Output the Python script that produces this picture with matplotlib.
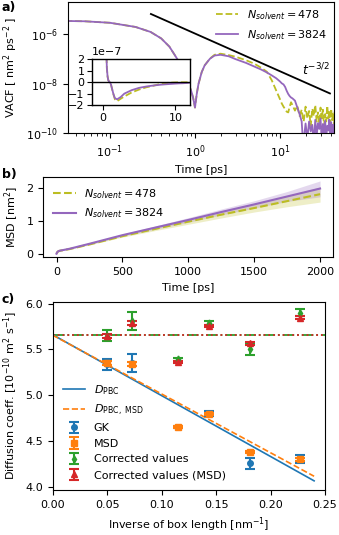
import numpy as np
import matplotlib
matplotlib.use('Agg')
import matplotlib.pyplot as plt

# --- panel a: velocity autocorrelation (signed), main plot shows |VACF|
t_vacf = [0.03, 0.05, 0.1, 0.2, 0.3, 0.4, 0.5, 0.6, 0.7, 0.8, 0.9, 0.95,
          1.0, 1.05, 1.1, 1.2, 1.3, 1.5, 1.7, 2.0, 2.5, 3.0, 4.0, 5.0, 6.0,
          7.0, 8.0, 9.0, 10.0, 10.5, 11.0, 11.5, 12.0, 12.5, 13.0, 13.5,
          14.0, 15.0, 16.0, 17.0, 18.0, 18.6, 19, 20, 21, 22, 23, 24, 25,
          26, 27, 28, 29, 30, 31, 32, 33, 34, 35, 36, 37, 38, 39, 40, 41,
          42, 43, 44]
vacf_3824 = [3.5e-6, 3.4e-6, 2.95e-6, 2.0e-6, 1.26e-6, 6.9e-7, 3.2e-7,
             1.2e-7, 4.8e-8, 1.6e-8, 5.3e-9, 2.8e-9, 1.1e-9, -4e-9, -1e-8,
             -3e-8, -5.6e-8, -1.04e-7, -1.4e-7, -1.5e-7, -1.3e-7, -1.0e-7,
             -7e-8, -5e-8, -3.8e-8, -2.9e-8, -2.2e-8, -1.7e-8, -1.25e-8,
             -1.05e-8, -9.5e-9, -7.5e-9, -5.2e-9, -3.9e-9, -3.2e-9, -2.8e-9,
             -2.6e-9, -2.1e-9, -1.1e-9, -6e-10, -3e-10, -5e-11,
             -5e-11, 2.5e-10, -6e-11, 3.0e-10, -1.2e-10, 2.2e-10, -4e-11,
             3.5e-10, -8e-11, 2.6e-10, -1.5e-10, 4.0e-10, -5e-11, 2.4e-10,
             -1.0e-10, 3.2e-10, -7e-11, 2.0e-10, -1.3e-10, 3.6e-10, -6e-11,
             2.8e-10, -1.1e-10, 2.2e-10, -9e-11, 3.0e-10]
vacf_478 = [3.5e-6, 3.4e-6, 2.95e-6, 2.0e-6, 1.26e-6, 6.9e-7, 3.2e-7,
            1.2e-7, 4.8e-8, 1.6e-8, 5.3e-9, 2.8e-9, 1.1e-9, -4e-9, -1e-8,
            -3e-8, -5.6e-8, -1.06e-7, -1.5e-7, -1.66e-7, -1.45e-7, -1.25e-7,
            -9e-8, -6.5e-8, -4.5e-8, -3.1e-8, -1.4e-8, -5.5e-9, -2.4e-9,
            -1.6e-9, -1.2e-9, -9.5e-10, -7.5e-10, -7e-10, -1.2e-9, -1.8e-9,
            -1.4e-9, -8.3e-10, -1.3e-9, -5e-10, 9e-10, 4e-10,
            3e-10, 1.2e-9, 4e-10, 8e-10, 2e-10, 1.0e-9, 5e-10, 1.4e-9,
            3e-10, 7e-10, 2.5e-10, 1.1e-9, 4e-10, 9e-10, 2e-10, 6e-10,
            3e-10, 1.3e-9, 4e-10, 8e-10, 2.5e-10, 1.0e-9, 3.5e-10, 7e-10,
            2e-10, 9e-10]
t_guide = [0.303, 38.7]
vacf_guide = [6.7e-6, 4.1e-9]

# --- panel b: mean squared displacement
t_msd = [0, 5, 10, 20, 30, 50, 100, 250, 500, 750, 1000, 1250, 1500, 1750, 2000]
msd_3824 = [0, 0.04, 0.065, 0.085, 0.095, 0.11, 0.15, 0.30, 0.56, 0.79, 1.02,
            1.26, 1.49, 1.73, 1.97]
msd_3824_lo = [0, 0.04, 0.064, 0.083, 0.093, 0.107, 0.145, 0.285, 0.53, 0.74,
               0.95, 1.17, 1.38, 1.58, 1.72]
msd_3824_hi = [0, 0.04, 0.066, 0.087, 0.097, 0.113, 0.155, 0.315, 0.59, 0.84,
               1.09, 1.35, 1.60, 1.88, 2.20]
msd_478 = [0, 0.04, 0.063, 0.082, 0.092, 0.105, 0.14, 0.28, 0.53, 0.75, 0.97,
           1.18, 1.38, 1.59, 1.80]
msd_478_lo = [0, 0.04, 0.062, 0.08, 0.09, 0.102, 0.135, 0.265, 0.50, 0.70,
              0.89, 1.08, 1.26, 1.42, 1.56]
msd_478_hi = [0, 0.04, 0.064, 0.084, 0.094, 0.108, 0.145, 0.295, 0.56, 0.80,
              1.05, 1.28, 1.50, 1.75, 2.02]

# --- panel c: diffusion coefficients vs inverse box length
inv_L = [0.0497, 0.0725, 0.1148, 0.1438, 0.181, 0.2275]
D_gk = [5.34, 5.35, 4.655, 4.80, 4.255, 4.305]
D_gk_err = [0.06, 0.10, 0.012, 0.025, 0.06, 0.04]
D_msd = [5.35, 5.34, 4.655, 4.795, 4.38, 4.30]
D_msd_err = [0.02, 0.02, 0.01, 0.015, 0.015, 0.015]
D_corr = [5.65, 5.81, 5.39, 5.79, 5.50, 5.90]
D_corr_err = [0.06, 0.10, 0.012, 0.025, 0.06, 0.04]
D_corr_msd = [5.645, 5.79, 5.365, 5.755, 5.565, 5.845]
D_corr_msd_err = [0.02, 0.02, 0.01, 0.015, 0.015, 0.015]
fit_x = [0.0, 0.24]
fit_gk = [5.66, 4.065]
fit_msd = [5.655, 4.115]
D_inf = 5.66
D_inf_msd = 5.66


def main():
   plt.rcParams['font.size'] = 8
   plt.rcParams['font.family'] = 'DejaVu Sans'

   fig = plt.figure(figsize=(3.39, 5.35), dpi=100)
   yel = '#bcbd22'
   pur = '#9467bd'

   # ---------------- a)
   ax = fig.add_axes([0.1997, 0.7508, 0.7863, 0.246])
   ax.plot(t_vacf, np.abs(vacf_478), '--', color=yel, lw=1.3,
           label=r'$N_{solvent} = 478$')
   ax.plot(t_vacf, np.abs(vacf_3824), '-', color=pur, lw=1.3,
           label=r'$N_{solvent} = 3824$')
   ax.plot(t_guide, vacf_guide, 'k-', lw=1.3)
   ax.text(18, 2.2e-8, r'$t^{-3/2}$', fontsize=9)
   ax.set_xscale('log')
   ax.set_yscale('log')
   ax.set_xlim(0.0318, 43.5)
   ax.set_ylim(1e-10, 2.1e-5)
   ax.set_yticks([1e-10, 1e-8, 1e-6])
   ax.yaxis.set_minor_locator(matplotlib.ticker.NullLocator())
   ax.set_xlabel('Time [ps]')
   ax.set_ylabel(r'VACF [ nm$^2$ ps$^{-2}$ ]')
   ax.legend(loc='upper right', frameon=False, borderaxespad=0.2,
             handlelength=2.0)

   ins = fig.add_axes([0.2723, 0.8037, 0.288, 0.0854])
   ins.plot(t_vacf, vacf_478, '--', color=yel, lw=1.3)
   ins.plot(t_vacf, vacf_3824, '-', color=pur, lw=1.3)
   ins.axhline(0, color='k', lw=1.0)
   ins.set_xlim(-1.4, 12.0)
   ins.set_ylim(-2e-7, 2e-7)
   ins.set_yticks([-2e-7, -1e-7, 0, 1e-7, 2e-7])
   ins.set_xticks([0, 10])
   ins.tick_params(pad=2)
   for s in ins.spines.values():
      s.set_linewidth(1.0)

   # ---------------- b)
   bx = fig.add_axes([0.1278, 0.519, 0.8552, 0.1496])
   bx.fill_between(t_msd, msd_478_lo, msd_478_hi, color=yel, alpha=0.25, lw=0)
   bx.fill_between(t_msd, msd_3824_lo, msd_3824_hi, color=pur, alpha=0.25, lw=0)
   bx.plot(t_msd, msd_478, '--', color=yel, lw=1.5,
           label=r'$N_{solvent} = 478$')
   bx.plot(t_msd, msd_3824, '-', color=pur, lw=1.5,
           label=r'$N_{solvent} = 3824$')
   bx.set_xticks([0, 500, 1000, 1500, 2000])
   bx.set_xlabel('Time [ps]')
   bx.set_ylabel(r'MSD [nm$^2$]')
   bx.legend(loc='upper left', frameon=False)

   # ---------------- c)
   cx = fig.add_axes([0.1555, 0.0841, 0.8032, 0.3519])
   cx.axhline(D_inf, color='C2', ls='-.', lw=1.3)
   cx.axhline(D_inf_msd, color='C3', ls=':', lw=1.3)
   cx.plot(fit_x, fit_gk, '-', color='C0', lw=1.2, label=r'$D_{\mathrm{PBC}}$')
   cx.plot(fit_x, fit_msd, '--', color='C1', lw=1.2,
           label=r'$D_{\mathrm{PBC,\ MSD}}$')
   cx.errorbar(inv_L, D_gk, yerr=D_gk_err, fmt='o', color='C0', ms=4,
               capsize=3.5, elinewidth=1.5, capthick=1.5, label='GK')
   cx.errorbar(inv_L, D_msd, yerr=D_msd_err, fmt='s', color='C1', ms=4,
               capsize=3.5, elinewidth=1.5, capthick=1.5, label='MSD')
   cx.errorbar(inv_L, D_corr, yerr=D_corr_err, fmt='d', color='C2', ms=3.5,
               capsize=3.5, elinewidth=1.5, capthick=1.5,
               label='Corrected values')
   cx.errorbar(inv_L, D_corr_msd, yerr=D_corr_msd_err, fmt='^', color='C3',
               ms=4, capsize=3.5, elinewidth=1.5, capthick=1.5,
               label='Corrected values (MSD)')
   cx.set_xlim(0, 0.25)
   cx.set_ylim(3.965, 6.02)
   cx.set_yticks([4.0, 4.5, 5.0, 5.5, 6.0])
   cx.set_xlabel(r'Inverse of box length [nm$^{-1}$]')
   cx.set_ylabel(r'Diffusion coeff. [10$^{-10}$ m$^2$ s$^{-1}$]')
   cx.legend(loc='lower left', frameon=False)

   for lab, y in (('a)', 0.998), ('b)', 0.686), ('c)', 0.452)):
      fig.text(0.005, y, lab, fontsize=9, fontweight='bold', va='top')

   fig.savefig('out.png', dpi=100)


if __name__ == '__main__':
   main()
